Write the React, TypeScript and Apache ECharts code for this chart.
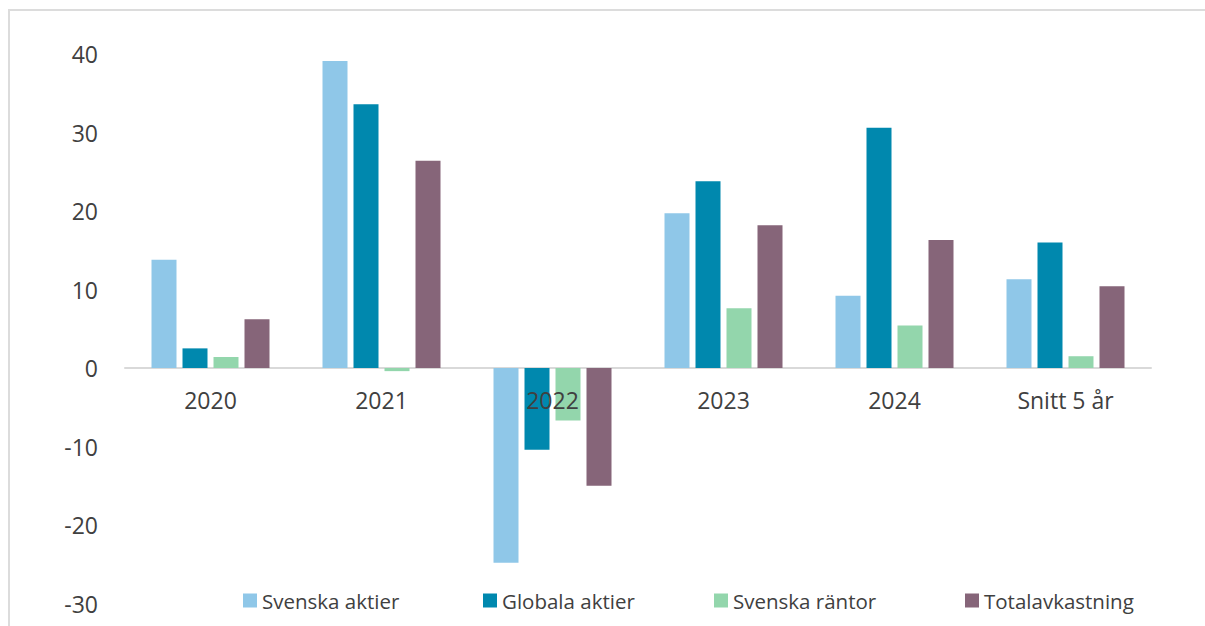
import React, { useEffect, useRef } from "react";
import * as echarts from "echarts";

const categories = ["2020", "2021", "2022", "2023", "2024", "Snitt 5 år"];
const seriesNames = ["Svenska aktier", "Globala aktier", "Svenska räntor", "Totalavkastning"];
const svenskaAktier = [13.8, 39.1, -24.8, 19.7, 9.2, 11.3];
const globalaAktier = [2.5, 33.6, -10.4, 23.8, 30.6, 16.0];
const svenskaRantor = [1.4, -0.4, -6.7, 7.6, 5.4, 1.5];
const totalavkastning = [6.2, 26.4, -15.0, 18.2, 16.3, 10.4];
const colors = ["#8FC7E8", "#0088AE", "#93D6AC", "#866579"];
const legendLefts = [243, 483, 714, 965];

export default function App() {
  const ref = useRef<HTMLDivElement>(null);
  useEffect(() => {
    if (!ref.current) return;
    const chart = echarts.init(ref.current, null, { renderer: "svg" });
    const dataSets = [svenskaAktier, globalaAktier, svenskaRantor, totalavkastning];
    const gridTop = 54;
    const gridBottom = 22.5;
    const plotH = 626 - gridTop - gridBottom;
    const zeroFromBottom = (plotH * 30) / 70;
    chart.setOption({
      animation: false,
      textStyle: { fontFamily: "Open Sans" },
      graphic: [
        {
          type: "rect",
          shape: { x: 9, y: 10, width: 1400, height: 800 },
          style: { fill: "none", stroke: "#DCDCDC", lineWidth: 2 },
          silent: true,
          z: -1,
        },
      ],
      grid: {
        left: 125,
        right: 54,
        top: gridTop,
        bottom: gridBottom,
        containLabel: false,
        outerBoundsMode: "none",
      },
      legend: seriesNames.map((name, i) => ({
        left: legendLefts[i],
        top: 590,
        padding: 0,
        itemWidth: 14,
        itemHeight: 14,
        icon: "rect",
        textStyle: { fontSize: 20.5, color: "#404040", fontFamily: "Open Sans" },
        data: [name],
      })),
      xAxis: [
        {
          type: "category",
          data: categories,
          axisLine: { onZero: true, lineStyle: { color: "#D9D9D9", width: 2 } },
          axisTick: { show: false },
          axisLabel: { show: false },
        },
        {
          type: "category",
          data: categories,
          position: "bottom",
          offset: -zeroFromBottom,
          z: 10,
          axisLine: { show: false, onZero: false },
          axisTick: { show: false },
          axisLabel: { fontSize: 23, color: "#404040", margin: 20, fontFamily: "Open Sans" },
        },
      ],
      yAxis: {
        type: "value",
        min: -30,
        max: 40,
        interval: 10,
        splitLine: { show: false },
        axisLine: { show: false },
        axisTick: { show: false },
        axisLabel: { fontSize: 23, color: "#404040", margin: 27, fontFamily: "Open Sans" },
      },
      series: seriesNames.map((name, i) => ({
        name,
        type: "bar",
        data: dataSets[i],
        barWidth: 25,
        barGap: "24%",
        itemStyle: { color: colors[i] },
      })),
    });
    return () => chart.dispose();
  }, []);
  return (
    <div
      ref={ref}
      style={{ position: "absolute", left: 0, top: 0, width: 1205, height: 626 }}
    />
  );
}
